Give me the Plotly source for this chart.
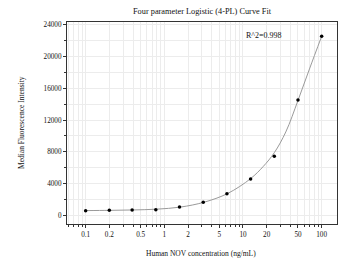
import plotly.graph_objects as go

# Data
conc = [0.1, 0.2, 0.39, 0.78, 1.56, 3.125, 6.25, 12.5, 25, 50, 100]
mfi = [630, 680, 715, 760, 1090, 1680, 2760, 4600, 7450, 14520, 22510]

# Fitted curve
curve_x = [0.1, 0.2, 0.4, 0.8, 1.6, 3.2, 6.4, 12.5, 18, 25, 35, 50, 70, 100]
curve_y = [640, 670, 720, 820, 1080, 1690, 2790, 4650, 6150, 7900, 10500, 14450, 18400, 22500]

x_tickvals = [0.1, 0.2, 0.5, 1, 2, 5, 10, 20, 50, 100]
x_ticktext = ["0.1", "0.2", "0.5", "1", "2", "5", "10", "20", "50", "100"]
y_tickvals = [0, 4000, 8000, 12000, 16000, 20000, 24000]
y_ticktext = ["0", "4000", "8000", "12000", "16000", "20000", "24000"]

minor_x = [m * 10 ** e for e in range(-2, 3) for m in range(1, 10)]
minor_x = [v for v in minor_x if 0.05 < v < 160]

FONT = "Liberation Serif"
OFF = 8  # page body margin
W, H = 346 - OFF, 266 - OFF
L, R, T, B = 67 - OFF, 9, 22 - OFF, 42

plot_w = W - L - R
plot_h = H - T - B


def px_x(page_x):
    return (page_x - OFF - L) / plot_w


def px_y(page_y):
    return 1 - (page_y - OFF - T) / plot_h


fig = go.Figure()
fig.add_trace(go.Scatter(
    x=curve_x, y=curve_y, mode="lines",
    line=dict(color="#9a9a9a", width=1, shape="spline", smoothing=1.0),
    hoverinfo="skip", showlegend=False))
fig.add_trace(go.Scatter(
    x=conc, y=mfi, mode="markers",
    marker=dict(color="black", size=3.5, symbol="circle"),
    showlegend=False))

fig.update_layout(
    width=W, height=H,
    margin=dict(l=L, r=R, t=T, b=B, autoexpand=False),
    paper_bgcolor="white", plot_bgcolor="white",
    font=dict(family=FONT, size=7, color="#111"),
    title=dict(text="Four parameter Logistic (4-PL) Curve Fit",
               x=0.5, xref="paper", xanchor="center",
               y=1 - (11 - OFF) / H, yref="container", yanchor="middle",
               font=dict(family=FONT, size=8.3, color="#111")),
    annotations=[
        dict(text="R^2=0.998", x=px_x(264), y=px_y(35), xref="paper", yref="paper",
             xanchor="center", yanchor="middle", showarrow=False,
             font=dict(family=FONT, size=8, color="#111")),
        dict(text="Human NOV concentration (ng/mL)",
             x=px_x(201), y=px_y(254),
             xref="paper", yref="paper", xanchor="center", yanchor="middle",
             showarrow=False, font=dict(family=FONT, size=7.5, color="#111")),
        dict(text="Median Fluorescence Intensity",
             x=px_x(21), y=px_y(123),
             xref="paper", yref="paper", xanchor="center", yanchor="middle",
             textangle=-90, showarrow=False,
             font=dict(family=FONT, size=7.5, color="#111")),
    ],
)

fig.update_xaxes(
    type="log", range=[-1.237, 2.195], automargin=False,
    tickmode="array", tickvals=x_tickvals, ticktext=x_ticktext,
    ticks="outside", ticklen=3, tickwidth=1, tickcolor="#333",
    showline=True, linecolor="#333", linewidth=1, mirror=True,
    showgrid=True, gridcolor="#ececec", gridwidth=1,
    minor=dict(tickmode="array", tickvals=minor_x, ticks="outside", ticklen=2,
               tickcolor="#333", showgrid=True, gridcolor="#ececec"),
    zeroline=False,
    tickfont=dict(family=FONT, size=7.2, color="#111"),
)
fig.update_yaxes(
    range=[-1041, 24288], automargin=False,
    tickmode="array", tickvals=y_tickvals, ticktext=y_ticktext,
    ticks="outside", ticklen=3, tickwidth=1, tickcolor="#333",
    showline=True, linecolor="#333", linewidth=1, mirror=True,
    showgrid=True, gridcolor="#ececec", gridwidth=1,
    minor=dict(dtick=2000, ticks="outside", ticklen=2, tickcolor="#333",
               showgrid=True, gridcolor="#ececec"),
    zeroline=False,
    tickfont=dict(family=FONT, size=7.2, color="#111"),
)

fig.write_html("out.html")
